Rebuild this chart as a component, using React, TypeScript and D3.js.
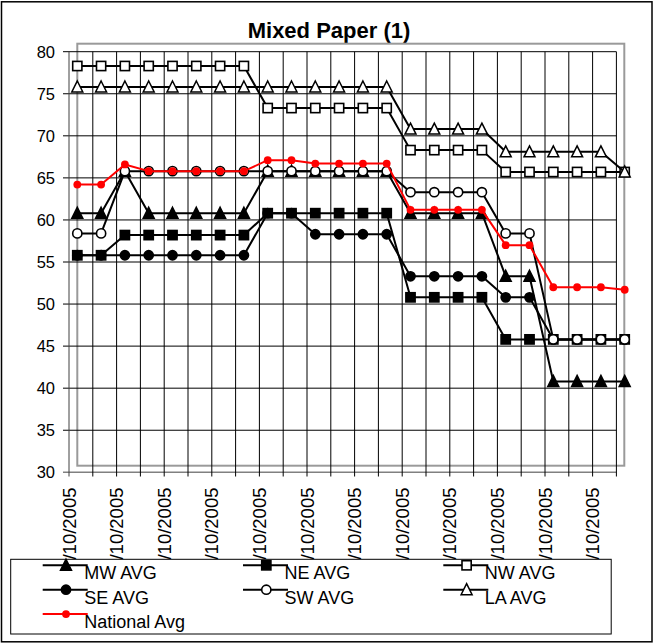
import React from "react";
import * as d3 from "d3";

const tickLabels = [
  "1/10/2005", "2/10/2005", "3/10/2005", "4/10/2005", "5/10/2005", "6/10/2005",
  "7/10/2005", "8/10/2005", "9/10/2005", "10/10/2005", "11/10/2005", "12/10/2005",
];
const yTicks = [30, 35, 40, 45, 50, 55, 60, 65, 70, 75, 80];

const mwAvg = [60.8, 60.8, 65.8, 60.8, 60.8, 60.8, 60.8, 60.8, 65.8, 65.8, 65.8, 65.8, 65.8, 65.8, 60.8, 60.8, 60.8, 60.8, 53.3, 53.3, 40.8, 40.8, 40.8, 40.8];
const neAvg = [55.8, 55.8, 58.2, 58.2, 58.2, 58.2, 58.2, 58.2, 60.8, 60.8, 60.8, 60.8, 60.8, 60.8, 50.8, 50.8, 50.8, 50.8, 45.8, 45.8, 45.8, 45.8, 45.8, 45.8];
const nwAvg = [78.3, 78.3, 78.3, 78.3, 78.3, 78.3, 78.3, 78.3, 73.3, 73.3, 73.3, 73.3, 73.3, 73.3, 68.3, 68.3, 68.3, 68.3, 65.7, 65.7, 65.7, 65.7, 65.7, 65.7];
const seAvg = [55.8, 55.8, 55.8, 55.8, 55.8, 55.8, 55.8, 55.8, 60.8, 60.8, 58.3, 58.3, 58.3, 58.3, 53.3, 53.3, 53.3, 53.3, 50.8, 50.8, 45.8, 45.8, 45.8, 45.8];
const swAvg = [58.4, 58.4, 65.8, 65.8, 65.8, 65.8, 65.8, 65.8, 65.8, 65.8, 65.8, 65.8, 65.8, 65.8, 63.3, 63.3, 63.3, 63.3, 58.4, 58.4, 45.8, 45.8, 45.8, 45.8];
const laAvg = [75.8, 75.8, 75.8, 75.8, 75.8, 75.8, 75.8, 75.8, 75.8, 75.8, 75.8, 75.8, 75.8, 75.8, 70.8, 70.8, 70.8, 70.8, 68.1, 68.1, 68.1, 68.1, 68.1, 65.7];
const nationalAvg = [64.2, 64.2, 66.6, 65.8, 65.8, 65.8, 65.8, 65.8, 67.1, 67.1, 66.7, 66.7, 66.7, 66.7, 61.2, 61.2, 61.2, 61.2, 57.0, 57.0, 52.0, 52.0, 52.0, 51.7];

type Marker = "triFilled" | "sqFilled" | "sqOpen" | "circFilled" | "circOpen" | "triOpen" | "dotRed";

const series: { name: string; values: number[]; color: string; marker: Marker }[] = [
  { name: "MW AVG", values: mwAvg, color: "#000", marker: "triFilled" },
  { name: "NE AVG", values: neAvg, color: "#000", marker: "sqFilled" },
  { name: "NW AVG", values: nwAvg, color: "#000", marker: "sqOpen" },
  { name: "SE AVG", values: seAvg, color: "#000", marker: "circFilled" },
  { name: "SW AVG", values: swAvg, color: "#000", marker: "circOpen" },
  { name: "LA AVG", values: laAvg, color: "#000", marker: "triOpen" },
  { name: "National Avg", values: nationalAvg, color: "#ff0000", marker: "dotRed" },
];

const FONT = "'Liberation Sans', Arial, sans-serif";
const N = 24;

function MarkerShape({ type, x, y }: { type: Marker; x: number; y: number }) {
  switch (type) {
    case "triFilled":
    case "triOpen": {
      const p = `M${x},${y - 6}L${x + 5.5},${y + 5}L${x - 5.5},${y + 5}Z`;
      return <path d={p} fill={type === "triFilled" ? "#000" : "#fff"} stroke="#000" strokeWidth={1.5} strokeLinejoin="miter" />;
    }
    case "sqFilled":
    case "sqOpen":
      return <rect x={x - 4.6} y={y - 4.6} width={9.2} height={9.2} fill={type === "sqFilled" ? "#000" : "#fff"} stroke="#000" strokeWidth={1.6} />;
    case "circFilled":
    case "circOpen":
      return <circle cx={x} cy={y} r={4.6} fill={type === "circFilled" ? "#000" : "#fff"} stroke="#000" strokeWidth={1.6} />;
    case "dotRed":
      return <circle cx={x} cy={y} r={3.9} fill="#ff0000" stroke="none" />;
  }
}

export default function App() {
  const xGrid = d3.scaleLinear().domain([0, N - 1]).range([69, 616.4]);
  const xPt = d3.scaleLinear().domain([0, N - 1]).range([77.3, 624.7]);
  const y = d3.scaleLinear().domain([30, 80]).range([472.3, 51.7]);
  const line = d3
    .line<number>()
    .x((_, i) => xPt(i))
    .y((d) => y(d));

  const legendCols = [42.7, 243, 443.3];
  const legendRows = [565.3, 589.7, 614.1];

  return (
    <svg width={654} height={644} style={{ position: "absolute", left: 0, top: 0 }} fontFamily={FONT}>
      <rect x={0} y={0} width={654} height={644} fill="#fff" />
      <rect x={1.5} y={1.8} width={650.5} height={640} fill="#fff" stroke="#000" strokeWidth={1.5} />

      <text x={329} y={38.3} textAnchor="middle" fontSize={22} fontWeight="bold" fill="#000">
        Mixed Paper (1)
      </text>

      {/* plot area frame */}
      <rect x={77.3} y={43.7} width={547} height={422} fill="none" stroke="#9a9a9a" strokeWidth={2} />

      {/* horizontal gridlines */}
      {yTicks.map((t) => (
        <g key={"h" + t}>
          <line
            x1={63}
            x2={616.4}
            y1={y(t)}
            y2={y(t)}
            stroke={t === 30 ? "#808080" : "#000"}
            strokeWidth={t === 30 ? 1.5 : 1}
          />
          <text x={55} y={y(t)} dy="0.36em" textAnchor="end" fontSize={16.5} fill="#000">
            {t}
          </text>
        </g>
      ))}

      {/* vertical gridlines */}
      {d3.range(N).map((i) => (
        <line key={"v" + i} x1={xGrid(i)} x2={xGrid(i)} y1={y(80)} y2={476.5} stroke={i === 0 ? "#404040" : "#000"} strokeWidth={1} />
      ))}

      {/* x labels */}
      {tickLabels.map((lab, k) => (
        <text
          key={"xl" + k}
          transform={`translate(${xGrid(2 * k)},487.5) rotate(-90)`}
          dy="0.36em"
          textAnchor="end"
          fontSize={18.5}
          fill="#000"
        >
          {lab}
        </text>
      ))}

      {/* series */}
      {series.map((s) => (
        <g key={s.name}>
          <path d={line(s.values) || ""} fill="none" stroke={s.color} strokeWidth={2} strokeLinejoin="round" />
          {s.values.map((v, i) => (
            <MarkerShape key={i} type={s.marker} x={xPt(i)} y={y(v)} />
          ))}
        </g>
      ))}

      {/* legend */}
      <rect x={10.7} y={559.3} width={600.5} height={74.7} fill="#fff" stroke="#000" strokeWidth={1} />
      {series.map((s, idx) => {
        const col = idx === 6 ? 0 : idx % 3;
        const row = Math.floor(idx / 3);
        const x0 = legendCols[col];
        const ly = legendRows[row];
        return (
          <g key={"lg" + s.name}>
            <line x1={x0} x2={x0 + 45} y1={ly} y2={ly} stroke={s.color} strokeWidth={2} />
            <MarkerShape type={s.marker} x={x0 + 23.3} y={ly} />
            <text x={x0 + 41.5} y={ly + 13.9} fontSize={18} fill="#000">
              {s.name}
            </text>
          </g>
        );
      })}
    </svg>
  );
}
